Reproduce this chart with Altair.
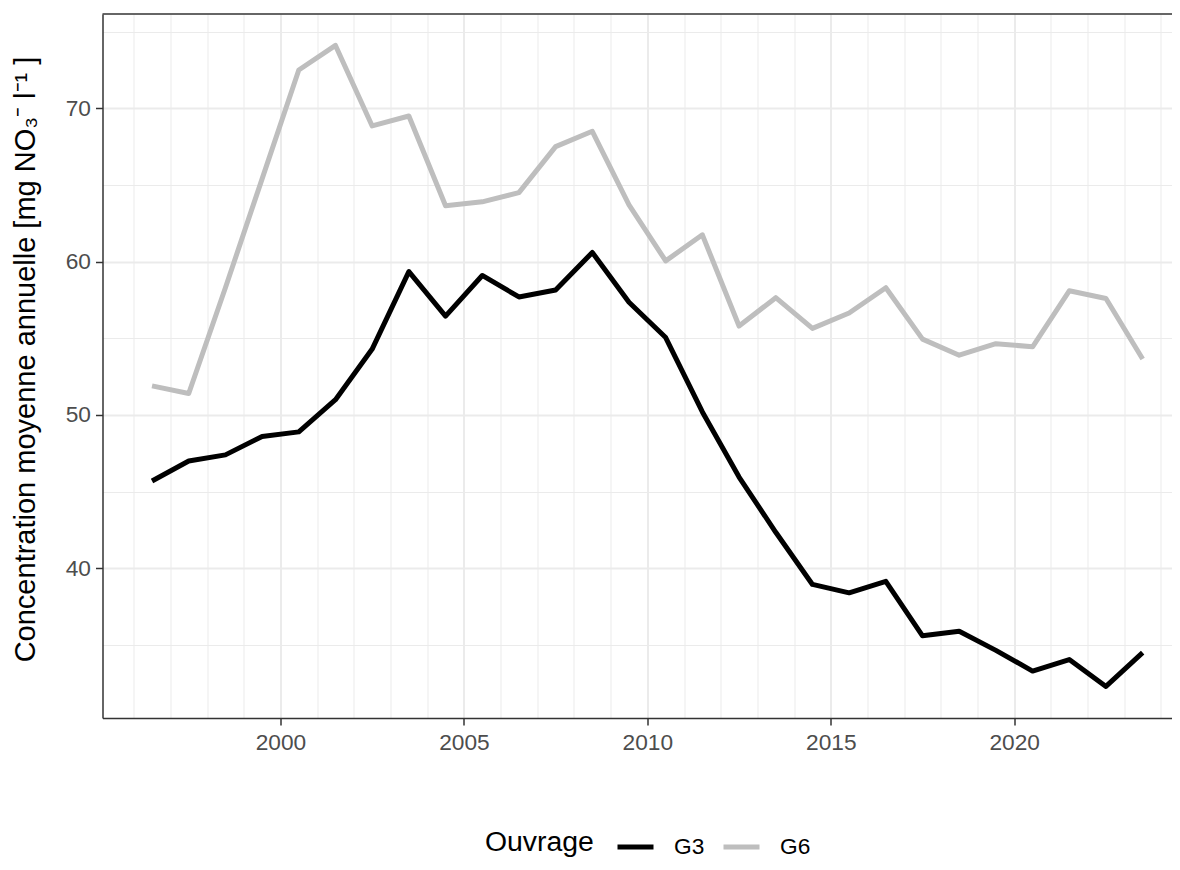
import altair as alt
import pandas as pd

YEARS = [1996.5, 1997.5, 1998.5, 1999.5, 2000.5, 2001.5, 2002.5, 2003.5, 2004.5, 2005.5,
         2006.5, 2007.5, 2008.5, 2009.5, 2010.5, 2011.5, 2012.5, 2013.5, 2014.5, 2015.5,
         2016.5, 2017.5, 2018.5, 2019.5, 2020.5, 2021.5, 2022.5, 2023.5]
G3 = [45.7, 47.0, 47.4, 48.6, 48.9, 51.0, 54.3, 59.35, 56.45, 59.1,
      57.7, 58.15, 60.6, 57.35, 55.05, 50.2, 45.95, 42.35, 38.95, 38.4,
      39.15, 35.6, 35.9, 34.65, 33.3, 34.05, 32.3, 34.5]
G6 = [51.9, 51.4, 58.3, 65.4, 72.5, 74.1, 68.85, 69.5, 63.65, 63.9,
      64.5, 67.5, 68.5, 63.7, 60.05, 61.75, 55.8, 57.65, 55.65, 56.65,
      58.3, 54.95, 53.9, 54.65, 54.45, 58.1, 57.6, 53.65]
SERIES = ["G3", "G6"]
COLORS = ["#000000", "#BEBEBE"]
X_TICKS = list(range(1996, 2025))
Y_TICKS = [35, 40, 45, 50, 55, 60, 65, 70, 75]
X_DOMAIN = [1995.15, 2024.30]
Y_DOMAIN = [30.24, 76.15]

rows = []
for name, vals in zip(SERIES, [G3, G6]):
    for yr, v in zip(YEARS, vals):
        rows.append({"annee": yr, "conc": v, "Ouvrage": name})
df = pd.DataFrame(rows)

FONT = "Liberation Sans"
W = 1069.5
H = 704

x_axis = alt.Axis(
    values=X_TICKS, format="d",
    labelExpr="datum.value % 5 === 0 ? datum.label : ''",
    title=None, labelFont=FONT, labelFontSize=22.7, labelColor="#4D4D4D",
    labelPadding=6, tickSize=7, tickColor="#333333", tickWidth=1.5,
    tickOpacity={"condition": {"test": "datum.value % 5 === 0", "value": 1}, "value": 0},
    domainColor="#333333", domainWidth=1.5,
    grid=True, gridColor="#EBEBEB",
    gridWidth={"condition": {"test": "datum.value % 5 === 0", "value": 2}, "value": 1},
    labelFlush=False, labelOverlap=False,
)
y_axis = alt.Axis(
    values=Y_TICKS,
    labelExpr="datum.value % 10 === 0 ? datum.label : ''",
    title="Concentration moyenne annuelle [mg NO\u2083\u207b  l\u207b\u00b9 ]",
    titleFont=FONT, titleFontSize=29, titleFontWeight="normal", titleColor="#000000",
    titleAngle=270, titleX=-68.5, titleY=345, titleAlign="center", titleBaseline="alphabetic",
    labelFont=FONT, labelFontSize=22.7, labelColor="#4D4D4D", labelPadding=5,
    tickSize=7, tickColor="#333333", tickWidth=1.5,
    tickOpacity={"condition": {"test": "datum.value % 10 === 0", "value": 1}, "value": 0},
    domainColor="#333333", domainWidth=1.5,
    grid=True, gridColor="#EBEBEB",
    gridWidth={"condition": {"test": "datum.value % 10 === 0", "value": 2}, "value": 1},
    labelFlush=False, labelOverlap=False,
)

lines = alt.Chart(df).mark_line(strokeWidth=5, strokeJoin="round", strokeCap="butt").encode(
    x=alt.X("annee:Q", scale=alt.Scale(domain=X_DOMAIN, nice=False, zero=False), axis=x_axis),
    y=alt.Y("conc:Q", scale=alt.Scale(domain=Y_DOMAIN, nice=False, zero=False), axis=y_axis),
    color=alt.Color(
        "Ouvrage:N",
        scale=alt.Scale(domain=SERIES, range=COLORS),
        legend=alt.Legend(
            orient="none", legendX=382.5, legendY=812, direction="horizontal",
            titleOrient="left", titleAnchor="middle", titleBaseline="middle",
            titleFont=FONT, titleFontSize=28.4, titleFontWeight="normal", titleColor="#000000",
            titlePadding=21, labelFont=FONT, labelFontSize=22.7, labelColor="#000000",
            labelOffset=18, columnPadding=8, symbolType="stroke", symbolSize=1296,
            symbolStrokeWidth=5, padding=0,
        ),
    ),
    order=alt.Order("annee:Q"),
)

top_border = alt.Chart(pd.DataFrame({"v": [Y_DOMAIN[1]]})).mark_rule(
    color="#333333", strokeWidth=1.5
).encode(y=alt.Y("v:Q"))

chart = alt.layer(lines, top_border).properties(
    width=W, height=H,
    autosize=alt.AutoSizeParams(type="none"),
    padding={"left": 94.5, "top": 6, "right": 0, "bottom": 144},
    background="#FFFFFF",
).configure_view(stroke="transparent", strokeWidth=0)

chart.save("out.html", embed_options={"renderer": "svg", "actions": False})
